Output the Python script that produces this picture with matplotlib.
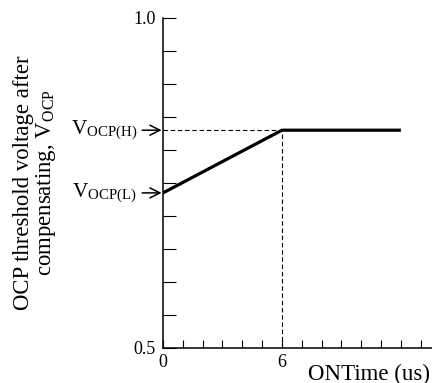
import matplotlib
matplotlib.use("Agg")
import matplotlib.pyplot as plt
import numpy as np

# data
on_time = [0, 6, 12]
v_ocp = [0.735, 0.83, 0.83]
v_low = 0.735
v_high = 0.83
t_knee = 6

plt.rcParams['font.family'] = ['Liberation Serif', 'DejaVu Serif']
plt.rcParams['mathtext.fontset'] = 'stix'

fig = plt.figure(figsize=(4.32, 3.83), dpi=100)
ax = fig.add_axes([163/432, 35/383, (432-163)/432, 330/383])

ax.plot(on_time, v_ocp, color='black', lw=2.3, solid_capstyle='butt', zorder=3)
ax.plot([0, t_knee], [v_high, v_high], color='black', lw=0.8, ls=(0, (4, 2.5)))
ax.plot([t_knee, t_knee], [0.5, v_high], color='black', lw=0.8, ls=(0, (4, 2.5)))

ax.set_xlim(0, 13.57)
ax.set_ylim(0.5, 1.0)
for s in ['top', 'right']:
    ax.spines[s].set_visible(False)
for s in ['left', 'bottom']:
    ax.spines[s].set_linewidth(1.1)
    ax.spines[s].set_clip_on(False)

ax.set_xticks(np.arange(0, 14))
ax.set_xticklabels(['0' if t == 0 else '6' if t == 6 else '' for t in range(14)])
ax.set_yticks(np.linspace(0.5, 1.0, 11))
ax.set_yticklabels(['0.5'] + [''] * 9 + ['1.0'])
ax.tick_params(axis='x', direction='in', length=5.5, width=0.8, pad=4, labelsize=13)
ax.tick_params(axis='y', direction='in', length=9.5, width=0.8, pad=5, labelsize=13)

# arrow labels
for val, lab in [(v_high, r'V$_{\mathregular{OCP(H)}}$'), (v_low, r'V$_{\mathregular{OCP(L)}}$')]:
    ax.annotate('', xy=(0, val), xytext=(-1.05, val),
                arrowprops=dict(arrowstyle='->', color='black', lw=1.1,
                                mutation_scale=18, shrinkA=0, shrinkB=1),
                annotation_clip=False)
    ax.text(-1.3, val, lab, ha='right', va='center', fontsize=15.3)

fig.text(36 / 432, 1 - 183 / 383,
         'OCP threshold voltage after\ncompensating, V$_{\\mathregular{OCP}}$',
         rotation=90, ha='center', va='center', fontsize=16.4, linespacing=1.0)
fig.text(308 / 432, 1 - 374 / 383, 'ONTime (us)', ha='left', va='center', fontsize=16.5)

fig.savefig('out.png', dpi=100)
